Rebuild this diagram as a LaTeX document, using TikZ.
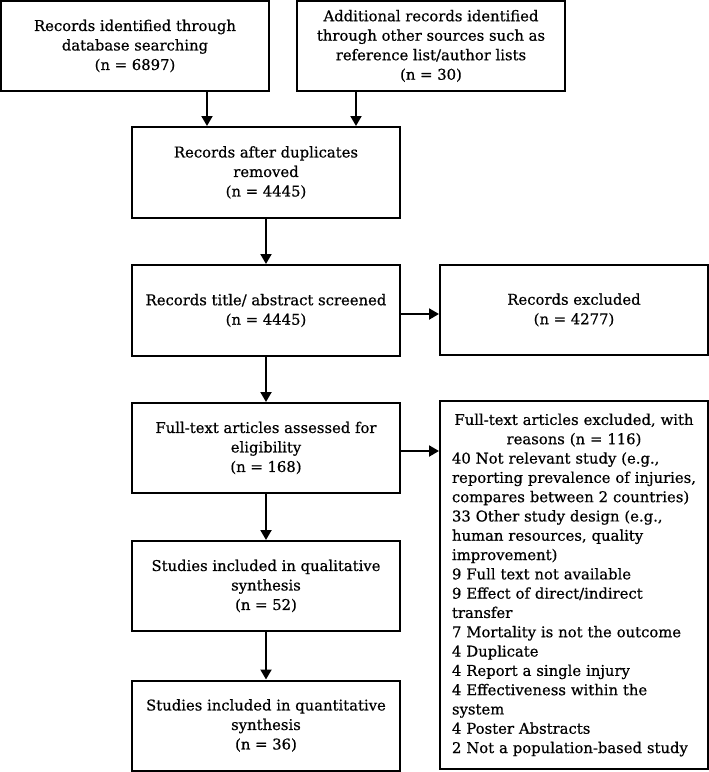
\documentclass[tikz,border=0pt]{standalone}
\usepackage{fontspec}
\setmainfont{DejaVu Serif}[FakeBold=0.6]
\usetikzlibrary{arrows.meta}
\tikzset{
  box/.style={draw, line width=2pt, minimum width=268pt, minimum height=90pt, inner sep=0pt, align=center,
    font=\fontsize{14.8pt}{19.5pt}\selectfont},
  arr/.style={line width=2pt, -{Triangle[length=10pt,width=11pt]}}
}
\begin{document}
\begin{tikzpicture}[x=1pt,y=-1pt]
\useasboundingbox (0,0) rectangle (709,772);
\node[box] (b1) at (135,46) {Records identified through\\database searching\\(n = 6897)};
\node[box] (b2) at (431,46) {Additional records identified\\through other sources such as\\reference list/author lists\\(n = 30)};
\node[box, minimum height=91pt] (b3) at (266,172.5) {Records after duplicates\\removed\\(n = 4445)};
\node[box, minimum height=91pt] (b4) at (266,310.5) {Records title/ abstract screened\\(n = 4445)};
\node[box] (b5) at (266,448) {Full-text articles assessed for\\eligibility\\(n = 168)};
\node[box] (b6) at (266,586) {Studies included in qualitative\\synthesis\\(n = 52)};
\node[box] (b7) at (266,725.5) {Studies included in quantitative\\synthesis\\(n = 36)};
\node[box] (ex) at (574,310) {Records excluded\\(n = 4277)};
\node[box, minimum height=368pt, text width=244pt, align=left, font=\fontsize{14.8pt}{19.3pt}\selectfont] (bx) at (574,585) {%
\makebox[\linewidth][c]{Full-text articles excluded, with}\\
\makebox[\linewidth][c]{reasons (n = 116)}\\
40 Not relevant study (e.g.,\\
reporting prevalence of injuries,\\
compares between 2 countries)\\
33 Other study design (e.g.,\\
human resources, quality\\
improvement)\\
9 Full text not available\\
9 Effect of direct/indirect\\
transfer\\
7 Mortality is not the outcome\\
4 Duplicate\\
4 Report a single injury\\
4 Effectiveness within the\\
system\\
4 Poster Abstracts\\
2 Not a population-based study};
\draw[arr] ([xshift=72pt]b1.south) -- ([xshift=72pt]b1.south |- b3.north);
\draw[arr] ([xshift=-75pt]b2.south) -- ([xshift=-75pt]b2.south |- b3.north);
\draw[arr] (b3) -- (b4);
\draw[arr] (b4.east |- 0,314) -- (ex.west |- 0,314);
\draw[arr] (b4) -- (b5);
\draw[arr] (b5.east |- 0,451) -- (bx.west |- 0,451);
\draw[arr] (b5) -- (b6);
\draw[arr] (b6) -- (b7);
\end{tikzpicture}
\end{document}
